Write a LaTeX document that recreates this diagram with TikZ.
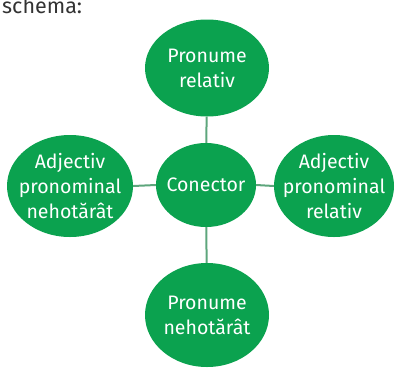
\documentclass[tikz,border=0pt]{standalone}
\usepackage{fontspec}
\setmainfont{Fira Sans}
\usetikzlibrary{shapes.geometric}
\definecolor{bubble}{HTML}{0BA24F}
\definecolor{link}{HTML}{5DA67C}
\definecolor{ink}{HTML}{333333}
\begin{document}
\begin{tikzpicture}[x=1pt,y=1pt,
  bubble/.style={ellipse,fill=bubble,inner sep=0pt},
  words/.style={text=white,align=center,inner sep=0pt,
    font=\fontsize{19.5}{25}\selectfont},
  link/.style={draw=link,line width=2pt}]
\useasboundingbox (0,0) rectangle (395,-367);
\node[anchor=base west,text=ink,font=\fontsize{21.5}{24}\selectfont,inner sep=0pt] (title) at (2,-13) {schema:};
\node[bubble,minimum width=124pt,minimum height=97pt] (top) at (207,-68) {};
\node[bubble,minimum width=100pt,minimum height=84pt] (mid) at (206,-185) {};
\node[bubble,minimum width=126pt,minimum height=102pt] (left) at (70,-186) {};
\node[bubble,minimum width=120pt,minimum height=102pt] (right) at (334,-186) {};
\node[bubble,minimum width=124pt,minimum height=104pt] (bot) at (207,-315) {};
\node[words] (topt) at (top) {Pronume\\relativ};
\node[words] (midt) at (mid) {Conector};
\node[words] (leftt) at (left) {Adjectiv\\pronominal\\nehotărât};
\node[words] (rightt) at (right) {Adjectiv\\pronominal\\relativ};
\node[words] (bott) at (bot) {Pronume\\nehotărât};
\draw[link] (top) -- (mid);
\draw[link] (mid) -- (bot);
\draw[link] (left.east) -- (mid.west);
\draw[link] (mid.east) -- (right.west);
\end{tikzpicture}
\end{document}
